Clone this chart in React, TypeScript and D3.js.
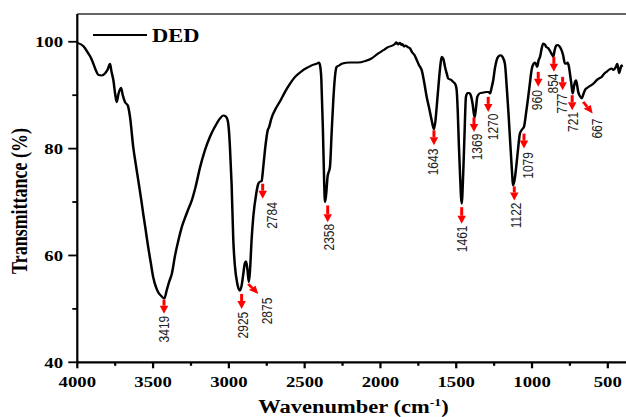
import React from 'react';
import * as d3 from 'd3';

// ---------- data ----------
const wavenumbers = [
  4000, 3960, 3927, 3910, 3894, 3875, 3861, 3840, 3817, 3800, 3784, 3775, 3762, 3750, 3740, 3728, 3712, 3700, 3685, 3667,
  3652, 3631, 3615, 3598, 3580, 3565, 3548, 3532, 3515, 3499, 3480, 3466, 3445, 3426, 3410, 3395, 3377, 3355, 3330, 3311,
  3290, 3270, 3245, 3220, 3190, 3158, 3125, 3092, 3060, 3037, 3020, 3008, 3000, 2993, 2982, 2971, 2960, 2945, 2927, 2915,
  2905, 2895, 2887, 2878, 2868, 2860, 2850, 2839, 2820, 2806, 2796, 2784, 2775, 2762, 2744, 2735, 2720, 2696, 2660, 2630,
  2600, 2564, 2520, 2480, 2454, 2420, 2406, 2398, 2390, 2380, 2372, 2366, 2358, 2349, 2333, 2322, 2311, 2300, 2289, 2270,
  2256, 2200, 2147, 2100, 2058, 2020, 1982, 1950, 1920, 1904, 1895, 1885, 1871, 1862, 1855, 1845, 1835, 1820, 1806, 1790,
  1775, 1761, 1745, 1728, 1712, 1695, 1678, 1662, 1647, 1636, 1629, 1615, 1605, 1596, 1585, 1574, 1562, 1553, 1535, 1520,
  1505, 1497, 1490, 1483, 1476, 1464, 1454, 1445, 1436, 1425, 1414, 1402, 1392, 1379, 1370, 1361, 1343, 1320, 1299, 1285,
  1277, 1266, 1256, 1245, 1233, 1220, 1207, 1195, 1179, 1167, 1155, 1146, 1135, 1124, 1113, 1102, 1090, 1080, 1065, 1053,
  1040, 1025, 1013, 1003, 990, 981, 972, 966, 957, 947, 936, 926, 915, 905, 893, 880, 868, 860, 850, 841,
  834, 820, 805, 795, 783, 775, 765, 757, 750, 740, 732, 722, 715, 710, 702, 695, 683, 672, 660, 650,
  640, 625, 607, 590, 574, 555, 541, 525, 508, 490, 475, 463, 453, 445, 438, 432, 425, 418, 409, 405,
];
const transmittance = [
  99.8, 99.2, 97.8, 97.0, 95.9, 94.5, 93.8, 93.7, 94.1, 94.8, 95.9, 94.5, 92.8, 90.2, 88.7, 90.3, 91.4, 90.0, 88.7, 88.1,
  85.9, 80.3, 77.2, 74.1, 70.8, 67.8, 64.6, 61.5, 58.6, 55.9, 54.0, 53.1, 52.4, 51.9, 53.5, 55.0, 56.5, 60.0, 63.2, 65.3,
  67.0, 68.5, 70.3, 72.8, 76.5, 79.7, 82.2, 84.1, 85.6, 86.2, 86.0, 85.3, 83.5, 80.3, 73.4, 63.0, 58.0, 54.8, 53.4, 54.5,
  56.5, 58.5, 58.9, 57.5, 55.0, 57.5, 63.0, 67.2, 71.5, 73.4, 73.8, 73.9, 76.0, 79.7, 83.4, 84.0, 85.6, 87.2, 89.0, 90.6,
  92.0, 93.4, 94.5, 95.2, 95.6, 95.9, 96.1, 95.5, 93.0, 84.0, 74.5, 70.0, 71.5, 74.7, 76.6, 83.0, 89.1, 93.5, 95.3, 95.6,
  95.9, 96.1, 96.1, 96.4, 96.9, 97.7, 98.4, 99.0, 99.3, 99.6, 99.9, 99.5, 99.8, 99.4, 99.6, 99.1, 99.3, 99.0, 98.8, 98.0,
  97.5, 96.6, 95.6, 94.7, 92.5, 89.7, 87.5, 85.3, 83.6, 85.5, 87.8, 92.5, 95.5, 97.2, 96.8, 95.3, 94.0, 93.1, 92.9, 92.5,
  92.0, 90.9, 87.0, 81.0, 75.9, 69.7, 75.3, 83.0, 89.7, 90.4, 90.4, 89.8, 88.4, 85.8, 87.5, 89.7, 90.4, 90.5, 90.6, 90.6,
  90.3, 91.5, 92.8, 95.0, 96.6, 97.3, 97.5, 97.2, 95.9, 91.6, 86.5, 82.2, 77.0, 73.1, 74.5, 77.2, 80.5, 82.8, 83.6, 84.1,
  86.5, 89.7, 92.5, 94.7, 95.9, 96.1, 95.7, 95.3, 96.5, 97.2, 98.8, 99.7, 99.5, 99.0, 98.8, 98.2, 97.6, 97.2, 98.5, 99.3,
  99.4, 99.2, 98.4, 97.5, 95.9, 95.9, 96.1, 95.4, 94.1, 92.0, 90.3, 91.8, 92.6, 92.8, 91.8, 90.6, 89.8, 89.4, 90.3, 91.0,
  91.3, 91.6, 91.9, 92.3, 92.8, 93.2, 93.4, 94.0, 94.4, 94.8, 95.0, 94.7, 95.0, 95.4, 95.9, 95.2, 94.1, 94.8, 95.6, 95.3,
];

const seriesName = 'DED';

// peak annotations (arrow start / end and label anchor, in data units)
const peakLabels = ['3419', '2925', '2875', '2784', '2358', '1643', '1461', '1369', '1270', '1122', '1079', '960', '854', '777', '721', '667'];
const arrowStartWn = [3428, 2916, 2872, 2777, 2348, 1647, 1464, 1383, 1289, 1117, 1053, 959, 856, 798, 735, 662];
const arrowStartT = [51.73, 52.8, 54.67, 73.43, 69.36, 83.43, 69.04, 85.82, 89.68, 72.93, 82.81, 94.37, 97.19, 93.43, 90.0, 88.74];
const arrowEndWn = [3428, 2916, 2806, 2777, 2348, 1647, 1464, 1383, 1289, 1117, 1053, 959, 856, 798, 735, 600];
const arrowEndT = [49.1, 49.98, 52.8, 70.62, 66.23, 80.62, 65.93, 83.11, 86.87, 70.3, 80.0, 91.56, 94.37, 90.94, 87.19, 86.57];
const labelWn = [3428, 2907, 2751, 2718, 2340, 1652, 1464, 1365, 1256, 1106, 1025, 970, 864, 805, 732, 574];
const labelT = [48.72, 49.47, 52.1, 69.98, 65.93, 80.0, 65.61, 82.81, 86.57, 69.92, 79.36, 90.94, 94.07, 90.32, 86.87, 85.63];

const xMajorTicks = [4000, 3500, 3000, 2500, 2000, 1500, 1000, 500];
const xMinorTicks = [3750, 3250, 2750, 2250, 1750, 1250, 750];
const yMajorTicks = [40, 60, 80, 100];
const yMinorTicks = [50, 70, 90];

const xTitle = 'Wavenumber (cm';
const xTitleSup = '-1';
const yTitle = 'Transmittance (%)';

// ---------- layout ----------
const W = 626;
const H = 417;
const SX = 1.25; // horizontal stretch of the original figure

const LEFT = 77.3 / SX;
const RIGHT = 626 / SX;
const TOP = 14;
const BOTTOM = 362.3;

const SERIF = "'Liberation Serif', 'Times New Roman', serif";
const SANS = "'Liberation Sans', Arial, sans-serif";

export default function App() {
  const x = d3.scaleLinear().domain([4000, 380]).range([LEFT, RIGHT]);
  const y = d3.scaleLinear().domain([40, 105.2]).range([BOTTOM, TOP]);

  const pts: [number, number][] = wavenumbers.map((w, i) => [w, transmittance[i]]);
  const line = d3
    .line<[number, number]>()
    .x((d) => x(d[0]))
    .y((d) => y(d[1]))
    .curve(d3.curveMonotoneX);

  const arrows = peakLabels.map((lab, i) => {
    const x0 = x(arrowStartWn[i]);
    const y0 = y(arrowStartT[i]);
    const x1 = x(arrowEndWn[i]);
    const y1 = y(arrowEndT[i]);
    const dx = x1 - x0;
    const dy = y1 - y0;
    const len = Math.hypot(dx, dy);
    const ux = dx / len;
    const uy = dy / len;
    const headLen = Math.min(8, len * 0.6);
    const hw = 3.4;
    const bx = x1 - ux * headLen;
    const by = y1 - uy * headLen;
    const px = -uy;
    const py = ux;
    const head = `M${x1},${y1}L${bx + px * hw},${by + py * hw}L${bx - px * hw},${by - py * hw}Z`;
    return { lab, x0, y0, bx, by, head, lx: x(labelWn[i]), ly: y(labelT[i]) };
  });

  return (
    <svg
      width={W}
      height={H}
      style={{ position: 'absolute', left: 0, top: 0, background: '#fff' }}
      xmlns="http://www.w3.org/2000/svg"
    >
      <rect x={0} y={0} width={W} height={H} fill="#fff" />
      <g transform={`scale(${SX},1)`}>
        {/* frame */}
        <line x1={LEFT} x2={RIGHT + 2} y1={TOP} y2={TOP} stroke="#333" strokeWidth={1.6} />
        <line x1={LEFT} x2={LEFT} y1={TOP} y2={BOTTOM} stroke="#000" strokeWidth={1.8} />
        <line x1={LEFT} x2={RIGHT + 2} y1={BOTTOM} y2={BOTTOM} stroke="#000" strokeWidth={2.2} />

        {/* x ticks */}
        {xMajorTicks.map((t) => (
          <g key={'xm' + t}>
            <line x1={x(t)} x2={x(t)} y1={BOTTOM} y2={BOTTOM + 6} stroke="#000" strokeWidth={1.8} />
            <text
              x={x(t)}
              y={387}
              textAnchor="middle"
              fontFamily={SERIF}
              fontWeight="bold"
              fontSize={15}
              fill="#000"
            >
              {t}
            </text>
          </g>
        ))}
        {xMinorTicks.map((t) => (
          <line key={'xn' + t} x1={x(t)} x2={x(t)} y1={BOTTOM} y2={BOTTOM + 3.5} stroke="#000" strokeWidth={1.8} />
        ))}

        {/* y ticks */}
        {yMajorTicks.map((t) => (
          <g key={'ym' + t}>
            <line x1={LEFT - 9 / SX} x2={LEFT} y1={y(t)} y2={y(t)} stroke="#000" strokeWidth={1.8} />
            <text
              x={63 / SX}
              y={y(t)}
              dy="0.35em"
              textAnchor="end"
              fontFamily={SERIF}
              fontWeight="bold"
              fontSize={15}
              fill="#000"
            >
              {t}
            </text>
          </g>
        ))}
        {yMinorTicks.map((t) => (
          <line key={'yn' + t} x1={LEFT - 5 / SX} x2={LEFT} y1={y(t)} y2={y(t)} stroke="#000" strokeWidth={1.8} />
        ))}

        {/* spectrum */}
        <path d={line(pts) || ''} fill="none" stroke="#000" strokeWidth={2} strokeLinejoin="round" />

        {/* annotations */}
        {arrows.map((a) => (
          <g key={a.lab}>
            <line x1={a.x0} y1={a.y0} x2={a.bx} y2={a.by} stroke="#ff0000" strokeWidth={2.4} />
            <path d={a.head} fill="#ff0000" />
            <text
              transform={`translate(${a.lx},${a.ly}) rotate(-90)`}
              textAnchor="end"
              dy="0.35em"
              fontFamily={SANS}
              fontSize={12}
              fill="#222"
            >
              {a.lab}
            </text>
          </g>
        ))}

        {/* legend */}
        <line x1={93 / SX} x2={147 / SX} y1={35} y2={35} stroke="#000" strokeWidth={2} />
        <text x={152 / SX} y={42} fontFamily={SERIF} fontWeight="bold" fontSize={18} fill="#000">
          {seriesName}
        </text>

        {/* axis titles */}
        <text
          x={(255 + 452) / 2 / SX}
          y={413}
          textAnchor="middle"
          fontFamily={SERIF}
          fontWeight="bold"
          fontSize={18}
          fill="#000"
        >
          {xTitle}
          <tspan fontSize={11} dy={-7}>
            {xTitleSup}
          </tspan>
          <tspan dy={7}>)</tspan>
        </text>
        <text
          transform={`translate(${27 / SX},201) rotate(-90)`}
          textAnchor="middle"
          fontFamily={SERIF}
          fontWeight="bold"
          fontSize={18}
          fill="#000"
        >
          {yTitle}
        </text>
      </g>
    </svg>
  );
}
